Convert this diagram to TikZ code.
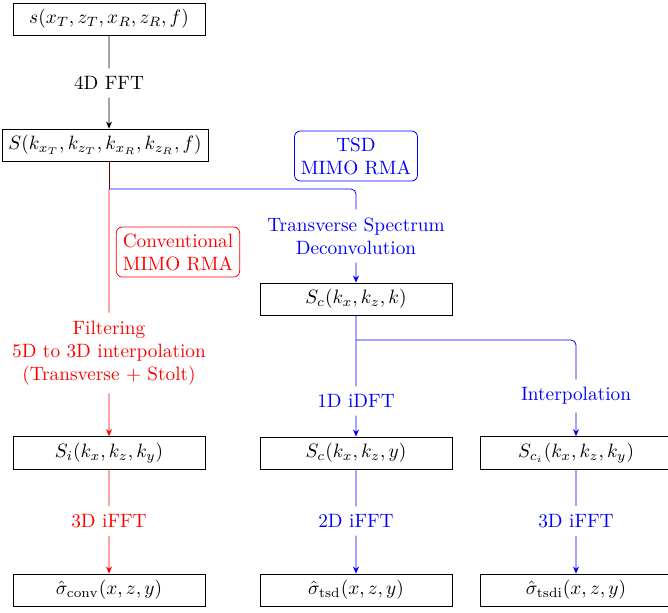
\documentclass[tikz,border=0pt]{standalone}
\usetikzlibrary{arrows.meta}
\begin{document}
\begin{tikzpicture}[x=0.5pt, y=-0.5pt, >={Stealth[length=3.5pt, width=3pt]},
  every node/.append style={scale=0.965},
  box/.style={draw, minimum width=3.5cm},
  lbl/.style={align=center, inner sep=4pt},
  tag/.style={draw, align=center, rounded corners=3pt}]
  \useasboundingbox (0,0) rectangle (668,612);
  % left column
  \node[box] (sig) at (109,19) {$s(x_T,z_T,x_R,z_R,f)$};
  \node[lbl] (fft4) at (109,83) {4D FFT};
  \node[box] (spec) at (105,145) {$S(k_{x_T},k_{z_T},k_{x_R},k_{z_R},f)$};
  \node[tag, red] (convtag) at (178,252) {Conventional\\MIMO RMA};
  \node[lbl, red] (filt) at (109,353) {Filtering\\5D to 3D interpolation\\(Transverse + Stolt)};
  \node[box] (Si) at (109,453) {$S_i(k_x,k_z,k_y)$};
  \node[lbl, red] (ifftA) at (109,521) {3D iFFT};
  \node[box] (conv) at (109,590) {$\hat\sigma_{\mathrm{conv}}(x,z,y)$};
  % middle column
  \node[tag, blue] (tsdtag) at (356,156) {TSD\\MIMO RMA};
  \node[lbl, blue] (tsdc) at (356,236) {Transverse Spectrum\\Deconvolution};
  \node[box] (Sc) at (356,299) {$S_c(k_x,k_z,k)$};
  \node[lbl, blue] (idft) at (356,401) {1D iDFT};
  \node[box] (Scy) at (356,453) {$S_c(k_x,k_z,y)$};
  \node[lbl, blue] (ifftB) at (356,521) {2D iFFT};
  \node[box] (tsd) at (356,590) {$\hat\sigma_{\mathrm{tsd}}(x,z,y)$};
  % right column
  \node[lbl, blue] (interp) at (576,396) {Interpolation};
  \node[box] (Sci) at (576,453) {$S_{c_i}(k_x,k_z,k_y)$};
  \node[lbl, blue] (ifftC) at (576,521) {3D iFFT};
  \node[box] (tsdi) at (576,590) {$\hat\sigma_{\mathrm{tsdi}}(x,z,y)$};
  \coordinate (split) at (109,189);
  \coordinate (branch) at (356,340);
  % connectors
  \draw (sig) -- (fft4);
  \draw[->] (fft4) -- (fft4 |- spec.north);
  \draw[red!40!black] (spec.south -| split) -- (split);
  \draw[red] (split) -- (filt);
  \draw[red, ->] (filt) -- (Si);
  \draw[red] (Si) -- (ifftA);
  \draw[red, ->] (ifftA) -- (conv);
  \draw[blue, rounded corners=2.5pt] (split) -| (tsdc);
  \draw[blue, ->] (tsdc) -- (Sc);
  \draw[blue] (Sc) -- (idft);
  \draw[blue, ->] (idft) -- (Scy);
  \draw[blue] (Scy) -- (ifftB);
  \draw[blue, ->] (ifftB) -- (tsd);
  \draw[blue, rounded corners=2.5pt] (branch) -| (interp);
  \draw[blue, ->] (interp) -- (Sci);
  \draw[blue] (Sci) -- (ifftC);
  \draw[blue, ->] (ifftC) -- (tsdi);
\end{tikzpicture}
\end{document}
